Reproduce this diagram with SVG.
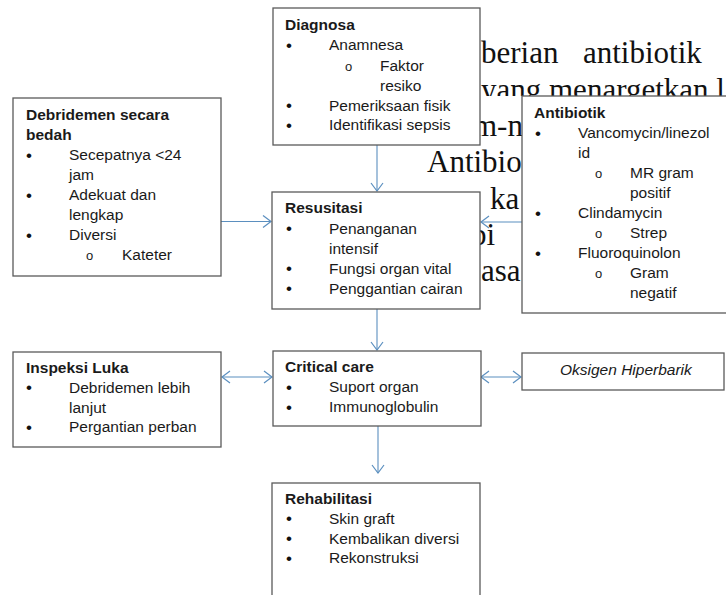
<svg xmlns="http://www.w3.org/2000/svg" width="726" height="595" viewBox="0 0 726 595">
<style>
.bg{font-family:"Liberation Serif","Times New Roman",serif;font-size:31px;fill:#111}
.box{fill:#fff;stroke:#5a5a5a;stroke-width:1.3}
.t{font-family:"Liberation Sans",Arial,sans-serif;font-size:15.5px;fill:#1a1a1a}
.u{font-family:"Liberation Sans",Arial,sans-serif;font-size:17px;fill:#111}
.b{font-weight:bold}
.o{font-family:"Liberation Sans",Arial,sans-serif;font-size:13px;fill:#1a1a1a}
.i{font-style:italic}
.c{fill:none;stroke:#5b8fbf;stroke-width:1.1}
</style>
<defs>
<marker id="ah" viewBox="-10 -8 12 16" refX="0" refY="0" markerWidth="12" markerHeight="16" markerUnits="userSpaceOnUse" orient="auto-start-reverse">
<path d="M-8,-6 L0,0 L-8,6" fill="none" stroke="#5b8fbf" stroke-width="1.2"/>
</marker>
<clipPath id="clip2"><rect x="0" y="0" width="726" height="96"/></clipPath>
</defs>
<rect width="726" height="595" fill="#fff"/>
<g id="background-text">
<text class="bg" x="481" y="63">berian</text>
<text class="bg" x="583" y="63">antibiotik</text>
<text class="bg" x="481" y="99.5" clip-path="url(#clip2)">yang menargetkan l</text>
<text class="bg" x="473" y="135.5">m-n</text>
<text class="bg" x="427" y="172">Antibio</text>
<text class="bg" x="490" y="208.5">ka</text>
<text class="bg" x="471" y="245">bi</text>
<text class="bg" x="481" y="281">asa</text>
</g>
<g id="connectors">
<line class="c" x1="377" y1="145" x2="377" y2="191" marker-end="url(#ah)"/>
<line class="c" x1="221" y1="221.5" x2="271" y2="221.5" marker-end="url(#ah)"/>
<line class="c" x1="522" y1="222" x2="481" y2="222" marker-end="url(#ah)"/>
<line class="c" x1="377" y1="309" x2="377" y2="350" marker-end="url(#ah)"/>
<line class="c" x1="222" y1="377" x2="272" y2="377" marker-start="url(#ah)" marker-end="url(#ah)"/>
<line class="c" x1="481" y1="377" x2="521" y2="377" marker-start="url(#ah)" marker-end="url(#ah)"/>
<line class="c" x1="378" y1="426" x2="378" y2="473" marker-end="url(#ah)"/>
</g>
<g id="diagnosa">
<rect class="box" x="273" y="8" width="207" height="137"/>
<text class="t b" x="285" y="29.5">Diagnosa</text>
<text class="u" x="286" y="50.5">•</text><text class="t" x="329" y="50">Anamnesa</text>
<text class="o" x="345" y="70.5">o</text><text class="t" x="380" y="70.5">Faktor</text>
<text class="t" x="380" y="90.5">resiko</text>
<text class="u" x="286" y="111">•</text><text class="t" x="329" y="110.5">Pemeriksaan fisik</text>
<text class="u" x="286" y="130.5">•</text><text class="t" x="329" y="130">Identifikasi sepsis</text>
</g>
<g id="debridemen">
<rect class="box" x="13" y="98" width="208" height="178"/>
<text class="t b" x="26" y="120">Debridemen secara</text>
<text class="t b" x="26" y="140">bedah</text>
<text class="u" x="26" y="160.5">•</text><text class="t" x="69" y="160">Secepatnya &lt;24</text>
<text class="t" x="69" y="180">jam</text>
<text class="u" x="26" y="200.5">•</text><text class="t" x="69" y="200">Adekuat dan</text>
<text class="t" x="69" y="220">lengkap</text>
<text class="u" x="26" y="240.5">•</text><text class="t" x="69" y="240">Diversi</text>
<text class="o" x="86" y="260">o</text><text class="t" x="122" y="260">Kateter</text>
</g>
<g id="resusitasi">
<rect class="box" x="272" y="192" width="208" height="117"/>
<text class="t b" x="285" y="213">Resusitasi</text>
<text class="u" x="286" y="234">•</text><text class="t" x="329" y="233.5">Penanganan</text>
<text class="t" x="329" y="254">intensif</text>
<text class="u" x="286" y="274">•</text><text class="t" x="329" y="273.5">Fungsi organ vital</text>
<text class="u" x="286" y="294">•</text><text class="t" x="329" y="293.5">Penggantian cairan</text>
</g>
<g id="antibiotik">
<rect class="box" x="522" y="96" width="220" height="217"/>
<text class="t b" x="534" y="117.5">Antibiotik</text>
<text class="u" x="535" y="138.5">•</text><text class="t" x="578" y="138">Vancomycin/linezol</text>
<text class="t" x="578" y="158">id</text>
<text class="o" x="595" y="178">o</text><text class="t" x="630" y="178">MR gram</text>
<text class="t" x="630" y="198">positif</text>
<text class="u" x="535" y="218.5">•</text><text class="t" x="578" y="218">Clindamycin</text>
<text class="o" x="595" y="238">o</text><text class="t" x="630" y="238">Strep</text>
<text class="u" x="535" y="258.5">•</text><text class="t" x="578" y="258">Fluoroquinolon</text>
<text class="o" x="595" y="278">o</text><text class="t" x="630" y="278">Gram</text>
<text class="t" x="630" y="298">negatif</text>
</g>
<g id="inspeksi-luka">
<rect class="box" x="13" y="352" width="208" height="95"/>
<text class="t b" x="26" y="372.5">Inspeksi Luka</text>
<text class="u" x="26" y="393">•</text><text class="t" x="69" y="392.5">Debridemen lebih</text>
<text class="t" x="69" y="412.5">lanjut</text>
<text class="u" x="26" y="432.5">•</text><text class="t" x="69" y="432">Pergantian perban</text>
</g>
<g id="critical-care">
<rect class="box" x="273" y="351" width="208" height="75"/>
<text class="t b" x="285" y="371.5">Critical care</text>
<text class="u" x="286" y="392.5">•</text><text class="t" x="329" y="392">Suport organ</text>
<text class="u" x="286" y="412.5">•</text><text class="t" x="329" y="412">Immunoglobulin</text>
</g>
<g id="oksigen-hiperbarik">
<rect class="box" x="522" y="353" width="202" height="37"/>
<text class="t i" x="560" y="374.5">Oksigen Hiperbarik</text>
</g>
<g id="rehabilitasi">
<rect class="box" x="272" y="483" width="208" height="125"/>
<text class="t b" x="285" y="503.5">Rehabilitasi</text>
<text class="u" x="286" y="524">•</text><text class="t" x="329" y="523.5">Skin graft</text>
<text class="u" x="286" y="544">•</text><text class="t" x="329" y="543.5">Kembalikan diversi</text>
<text class="u" x="286" y="563.5">•</text><text class="t" x="329" y="563">Rekonstruksi</text>
</g>
</svg>
